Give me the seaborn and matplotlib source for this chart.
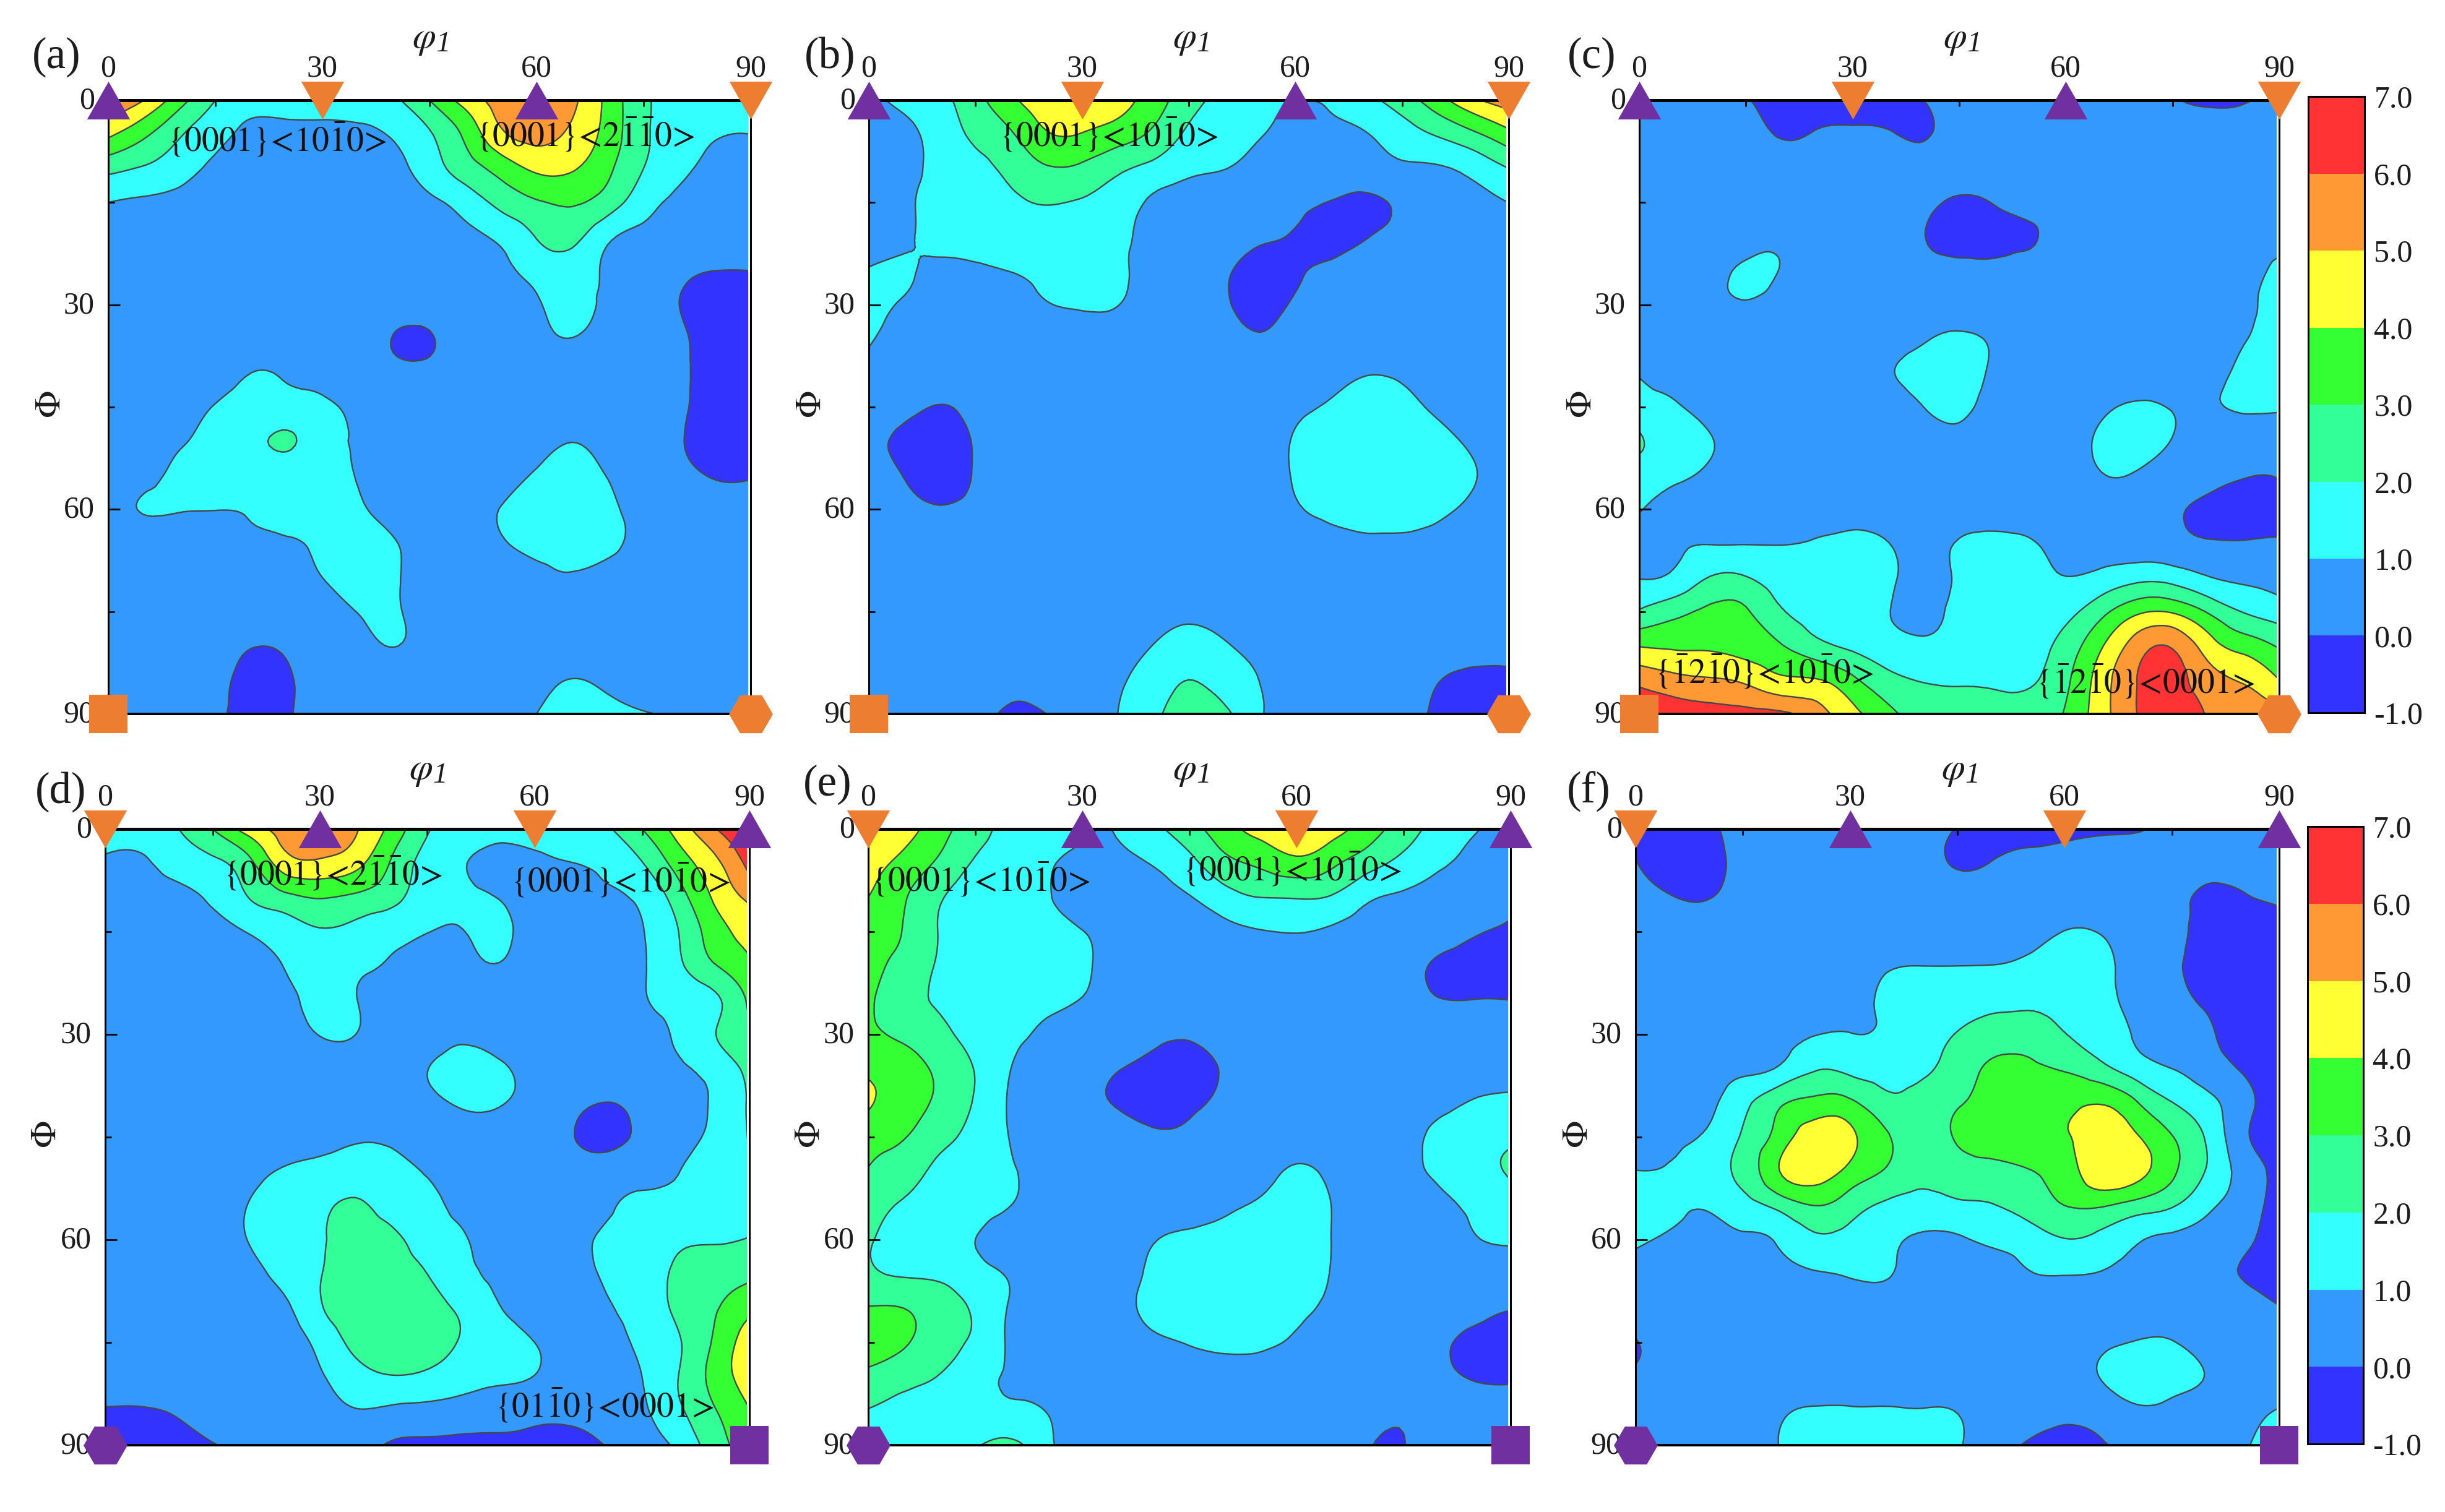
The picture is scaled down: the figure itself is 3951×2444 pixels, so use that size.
import numpy as np
import matplotlib
matplotlib.use("Agg")
import matplotlib.pyplot as plt
import matplotlib.tri as mtri
import matplotlib.transforms as mtransforms
import seaborn as sns

phi1_values = [0,5,10,15,20,25,30,35,40,45,50,55,60,65,70,75,80,85,90]
Phi_values = [0,5,10,15,20,25,30,35,40,45,50,55,60,65,70,75,80,85,90]
levels = [-1,0,1,2,3,4,5,6,7]
level_labels = ['-1.0','0.0','1.0','2.0','3.0','4.0','5.0','6.0','7.0']
angle_ticks = [0,30,60,90]
minor_ticks = [15,45,75]

panel_a = [
[6.0,5.0,3.4,2.0,1.3,1.4,1.3,1.3,1.8,3.0,4.4,5.4,5.8,5.2,3.7,2.2,1.6,1.4,1.3],
[4.2,3.2,2.1,1.3,.8,.75,.8,.85,1.1,1.9,3.2,4.8,5.3,4.8,3.6,2.2,1.4,1.05,1.0],
[2.3,1.9,1.4,.8,.6,.5,.5,.5,.7,1.5,2.5,3.4,4.2,4.1,3.2,2.0,1.2,.8,.7],
[1.0,.85,.7,.5,.5,.5,.5,.5,.5,.8,1.4,2.3,2.9,3.1,2.5,1.4,.8,.6,.5],
[.5,.5,.5,.5,.5,.5,.5,.5,.5,.5,.8,1.2,2.05,2.3,1.2,.8,.6,.5,.5],
[.5,.5,.5,.5,.5,.5,.5,.5,.5,.5,.5,.8,1.3,1.5,.85,.6,.25,0,0],
[.5,.5,.5,.5,.5,.5,.5,.5,.5,.5,.5,.6,.9,1.3,.8,.5,0,-.5,-.5],
[.5,.5,.5,.5,.5,.5,.5,.5,-.05,-.1,.5,.5,.7,.98,.6,.5,.2,-.5,-.5],
[.5,.5,.5,.6,1.0,.9,.7,.5,.3,.3,.5,.5,.5,.5,.5,.5,.25,-.5,-.5],
[.5,.5,.6,1.05,1.4,1.4,1.15,.8,.5,.5,.5,.5,.5,.5,.5,.5,.2,-.5,-.5],
[.5,.6,.9,1.3,1.7,2.1,1.4,.9,.5,.5,.5,.5,.6,.98,.6,.5,.1,-.5,-.5],
[.5,.75,1.2,1.4,1.5,1.5,1.3,.95,.5,.5,.5,.7,1.1,1.4,.95,.5,.3,-.1,-.1],
[.6,1.05,1.05,1.02,1.1,1.3,1.3,1.1,.7,.5,.6,1.02,1.3,1.5,1.25,.6,.5,.5,.5],
[.5,.5,.5,.5,.8,.9,1.15,1.25,1.05,.6,.5,.9,1.25,1.4,1.3,.6,.5,.5,.5],
[.5,.5,.5,.5,.5,.7,1.0,1.25,1.1,.6,.5,.5,.7,.9,.6,.5,.5,.5,.5],
[.5,.5,.5,.5,.5,.5,.7,1.02,1.1,.6,.5,.5,.5,.5,.5,.5,.5,.5,.5],
[.5,.5,.5,.4,.05,.15,.5,.7,1.02,.6,.5,.5,.5,.5,.5,.5,.5,.5,.5],
[.5,.5,.5,.35,-.4,-.15,.45,.5,.5,.5,.5,.5,.7,1.02,.8,.6,.5,.5,.5],
[.5,.5,.5,.3,-.6,-.15,.45,.5,.5,.5,.5,.6,1.0,1.4,1.3,1.05,.9,.7,.5],
]

panel_b = [
[.8,1.2,1.7,2.65,3.8,4.6,4.8,4.4,3.5,2.4,1.7,1.3,1.05,1.1,1.7,2.5,3.6,4.8,5.5],
[.6,.8,1.4,2.2,2.9,3.9,3.95,3.5,2.8,1.8,1.3,1.05,.7,.8,.97,1.5,2.1,2.8,3.7],
[.6,.7,1.3,1.7,2.3,2.9,2.8,2.2,1.7,1.2,1.02,.7,.5,.5,.6,.85,.9,1.3,2.0],
[.6,.8,1.4,1.5,1.8,2.05,1.9,1.5,.85,.6,.5,.5,.3,-.05,-.2,.2,.5,.7,1.0],
[.6,.85,1.3,1.4,1.5,1.5,1.4,1.2,.7,.5,.5,.15,-.1,-.5,-.05,.2,.5,.5,.5],
[1.05,1.1,.8,.85,1.02,1.2,1.35,1.2,.6,.5,.2,-.5,-.2,.3,.5,.5,.5,.5,.5],
[1.3,.9,.6,.5,.6,.95,1.1,1.02,.5,.5,.2,-.5,.2,.5,.5,.5,.5,.5,.5],
[1.1,.6,.5,.5,.5,.5,.6,.6,.5,.5,.5,.15,.5,.5,.5,.5,.5,.5,.5],
[.7,.5,.5,.5,.5,.5,.5,.5,.5,.5,.5,.5,.5,.7,.95,.85,.6,.5,.5],
[.5,.3,-.05,.3,.5,.5,.5,.5,.5,.5,.5,.5,.75,1.15,1.5,1.3,.85,.6,.5],
[.4,-.3,-.6,.1,.5,.5,.5,.5,.5,.5,.5,.6,1.1,1.7,1.8,1.7,1.3,.85,.5],
[.4,-.05,-.6,.1,.5,.5,.5,.5,.5,.5,.5,.6,1.1,1.7,1.9,1.9,1.5,1.05,.6],
[.5,.3,.1,.3,.5,.5,.5,.5,.5,.5,.5,.5,.9,1.2,1.4,1.4,1.2,.8,.5],
[.5,.5,.5,.5,.5,.5,.5,.5,.5,.5,.5,.5,.6,.8,.85,.85,.7,.5,.5],
[.5,.5,.5,.5,.5,.5,.5,.5,.5,.5,.5,.5,.5,.5,.5,.5,.5,.5,.5],
[.5,.5,.5,.5,.5,.5,.5,.5,.6,.8,.6,.5,.5,.5,.5,.5,.5,.5,.5],
[.5,.5,.5,.5,.5,.5,.5,.6,1.02,1.4,1.1,.7,.5,.5,.5,.5,.45,.3,.3],
[.5,.5,.5,.5,.3,.4,.5,.85,1.5,2.0,1.6,.98,.5,.5,.5,.5,.05,-.2,-.2],
[.5,.5,.5,.4,-.2,0,.4,1.0,1.8,2.4,2.2,1.1,.6,.5,.5,.4,-.2,-.6,-.6],
]

panel_c = [
[.5,.5,.5,.1,-.6,-.7,-.7,-.6,0,.5,.5,.5,.5,.5,.5,.1,-.2,-.1,.5],
[.5,.5,.5,.5,-.1,.1,.2,.1,-.1,.5,.5,.5,.5,.5,.5,.5,.5,.5,.5],
[.5,.5,.5,.5,.5,.5,.5,.5,.5,.5,.5,.5,.5,.5,.5,.5,.5,.5,.5],
[.5,.5,.5,.5,.5,.5,.5,.5,.4,-.25,.1,.45,.5,.5,.5,.5,.5,.5,.5],
[.5,.5,.5,.5,.8,.5,.5,.5,.05,-.7,-.6,-.15,.5,.5,.5,.5,.5,.5,.5],
[.5,.5,.6,1.2,.95,.6,.5,.5,.4,.4,.4,.5,.5,.5,.5,.5,.5,.6,1.3],
[.5,.5,.7,.9,.6,.5,.5,.5,.5,.5,.5,.5,.5,.5,.5,.5,.5,.8,1.3],
[.5,.5,.5,.5,.5,.5,.5,.6,.9,1.2,.8,.5,.5,.5,.5,.5,.6,.95,1.4],
[.95,.7,.5,.5,.5,.5,.5,.9,1.4,1.5,.8,.5,.5,.5,.5,.5,.7,1.2,1.5],
[1.4,1.1,.7,.5,.5,.5,.5,.5,1.0,1.25,.6,.5,.5,.8,1.15,.95,.9,1.1,1.1],
[2.1,1.5,1.05,.6,.5,.5,.5,.5,.6,.7,.5,.5,.6,1.2,1.5,.95,.5,.6,.6],
[1.5,1.2,.8,.5,.5,.5,.5,.5,.5,.5,.5,.5,.5,.95,.9,.5,.4,.1,.1],
[1.05,.7,.5,.5,.5,.5,.5,.5,.5,.5,.5,.5,.5,.5,.5,.2,-.3,-.6,-.6],
[.6,.9,.97,.97,.97,1.1,1.3,1.03,.6,1.1,1.3,1.1,.6,.5,.5,.3,.1,.1,.2],
[.97,1.2,2.05,2.05,1.5,1.3,1.3,1.2,.5,1.2,1.4,1.3,1.02,1.3,1.7,1.6,1.05,.85,.7],
[2.1,2.7,3.2,3.1,2.1,1.5,1.2,1.03,.7,1.3,1.4,1.4,1.7,2.7,3.8,3.9,2.9,1.95,1.5],
[3.95,3.85,3.85,3.6,3.05,2.3,1.8,1.4,1.2,1.3,1.3,1.6,2.4,3.9,5.5,5.9,4.5,3.6,2.9],
[5.7,5.3,5.1,4.8,4.2,4.05,3.2,2.3,1.95,1.9,1.85,1.9,2.8,4.5,6.0,6.4,5.4,4.9,4.0],
[6.9,6.6,6.4,6.3,6.2,5.4,4.3,3.3,2.4,2.2,2.2,2.4,3.1,4.6,6.0,6.8,5.9,5.6,5.4],
]

panel_d = [
[1.5,1.5,1.95,3.0,4.45,5.4,5.9,5.1,3.7,2.1,1.5,1.4,1.3,1.4,1.85,3.0,4.4,5.9,7.0],
[.85,.85,1.4,1.8,2.7,4.5,4.8,4.3,2.9,1.6,1.05,.7,.8,.98,1.2,1.95,3.4,4.7,6.3],
[.5,.6,.7,1.2,2.0,2.7,3.05,2.8,2.3,1.4,1.1,.97,.5,.5,.85,1.2,2.5,4.1,5.2],
[.5,.5,.5,.6,1.05,1.5,1.9,1.7,1.3,1.02,.98,1.2,.6,.5,.5,.95,1.97,3.5,4.4],
[.5,.5,.5,.5,.5,1.02,1.25,1.15,.9,.6,.7,.95,.5,.5,.5,.9,1.8,2.9,3.8],
[.5,.5,.5,.5,.5,.8,1.2,1.03,.5,.5,.5,.5,.5,.5,.5,.9,1.3,1.8,3.2],
[.5,.5,.5,.5,.5,.6,1.03,1.0,.5,.5,.8,.5,.5,.5,.5,.6,1.15,1.95,2.8],
[.5,.5,.5,.5,.5,.5,.5,.5,.5,.98,1.4,1.2,.6,.5,.5,.5,.85,1.35,2.3],
[.5,.5,.5,.5,.5,.5,.5,.5,.5,.7,1.15,1.1,.6,.3,-.02,.4,.7,1.1,2.1],
[.5,.5,.5,.5,.5,.5,.7,.9,.8,.5,.5,.5,.5,.1,-.4,.3,.75,1.2,2.05],
[.5,.5,.5,.5,.7,1.1,1.3,1.5,1.4,.9,.5,.5,.5,.5,.6,.7,.97,1.5,1.9],
[.5,.5,.5,.5,1.02,1.4,1.8,2.1,1.7,1.3,.7,.5,.5,.5,.85,1.2,1.3,1.5,1.6],
[.5,.5,.5,.5,1.02,1.4,1.9,2.3,2.2,1.6,1.1,.5,.5,.6,1.2,1.4,1.8,1.9,2.05],
[.5,.5,.5,.5,.75,1.25,1.95,2.5,2.4,2.0,1.3,.8,.5,.5,1.15,1.5,2.2,2.6,2.8],
[.5,.5,.5,.5,.5,.8,1.9,2.5,2.6,2.3,1.8,1.05,.6,.5,.9,1.4,2.2,2.9,3.7],
[.5,.5,.5,.5,.5,.5,1.3,2.25,2.6,2.4,1.9,1.4,1.0,.5,.6,1.2,1.9,3.1,4.6],
[.5,.5,.5,.5,.5,.5,.9,1.6,1.95,1.8,1.4,1.15,.98,.5,.5,1.0,1.98,3.3,4.5],
[-.1,-.1,.1,.4,.5,.5,.6,.95,.8,.7,.6,.5,.3,.2,.4,.85,1.8,2.9,3.95],
[-.9,-.8,-.4,-.05,.3,.4,.4,.3,-.1,-.2,-.3,-.3,-.3,-.3,.03,.5,1.2,2.5,3.5],
]

panel_e = [
[4.9,4.4,3.4,2.4,1.7,1.4,1.1,1.05,1.75,2.6,3.6,4.4,4.8,4.4,3.5,2.5,1.6,1.05,.8],
[4.4,3.7,2.8,1.9,1.5,1.1,.8,.8,1.05,1.7,2.7,3.2,3.7,3.2,2.4,1.7,1.15,.75,.6],
[4.0,3.1,2.1,1.5,1.2,1.05,.6,.5,.7,.95,1.6,2.0,2.05,1.9,1.15,.85,.65,.5,.3],
[3.5,2.95,1.95,1.4,1.3,1.2,1.03,.5,.5,.5,.75,.95,1.03,.85,.6,.5,.5,.1,-.2],
[3.4,2.6,1.9,1.5,1.4,1.35,1.2,.5,.5,.5,.5,.5,.5,.5,.5,.45,-.2,-.4,-.5],
[3.2,2.3,1.9,1.5,1.3,1.2,.95,.5,.5,.5,.5,.5,.5,.5,.5,.4,.05,.02,0],
[3.2,2.8,2.3,1.6,1.2,.8,.5,.5,.3,.2,.5,.5,.5,.5,.5,.5,.5,.5,.5],
[3.8,3.4,2.8,1.95,1.0,.5,.4,.05,-.4,-.7,.2,.5,.5,.5,.5,.5,.5,.5,.5],
[4.1,3.5,2.8,1.9,.9,.5,.3,-.1,-.5,-.3,.3,.5,.5,.5,.5,.5,.7,1.1,1.3],
[3.4,3.05,2.3,1.7,.95,.5,.5,.5,.2,.2,.5,.5,.5,.5,.5,.6,1.3,1.6,1.85],
[2.95,2.4,1.8,1.5,1.1,.6,.5,.5,.5,.5,.5,.6,1.15,.75,.5,.7,1.2,1.6,2.1],
[2.4,1.9,1.6,1.3,1.0,.5,.5,.5,.5,.6,.85,1.15,1.5,.98,.5,.5,.8,1.15,1.5],
[2.1,1.6,1.3,1.0,.6,.5,.5,.5,.95,1.2,1.3,1.45,1.5,.98,.5,.5,.6,.95,1.1],
[2.2,1.9,1.8,1.35,.9,.5,.5,.6,1.2,1.5,1.6,1.6,1.45,.95,.5,.5,.5,.5,.5],
[3.05,3.0,2.45,1.85,.9,.5,.5,.7,1.3,1.6,1.7,1.5,1.2,.8,.5,.5,.5,.3,.05],
[3.3,3.1,2.4,1.8,.85,.5,.5,.5,.8,1.07,1.3,1.2,.85,.5,.5,.5,.2,-.3,-.6],
[2.8,2.4,1.95,1.3,.9,.6,.5,.5,.5,.5,.5,.5,.5,.5,.5,.5,.3,-.1,-.2],
[1.95,1.6,1.3,1.2,1.2,.98,.5,.5,.5,.5,.5,.5,.5,.5,.3,.15,.5,.5,.5],
[1.6,1.4,1.5,1.9,2.3,1.2,.7,.5,.5,.5,.5,.5,.5,.4,.05,-.02,.5,.5,.5],
]

panel_f = [
[-.3,-.8,-.3,.4,.5,.5,.5,.5,.4,-.05,-.4,-.5,-.4,-.2,-.1,.4,.5,.5,.5],
[.05,-.6,-.4,.3,.5,.5,.5,.5,.4,-.1,.05,.3,.4,.5,.5,.4,.4,.4,.4],
[.4,.05,-.05,.4,.5,.5,.5,.5,.5,.5,.5,.5,.5,.5,.5,.3,-.2,-.1,.2],
[.5,.5,.5,.5,.5,.5,.5,.6,.6,.6,.6,.7,1.02,.95,.5,.2,-.3,-.6,-.6],
[.5,.5,.5,.5,.5,.5,.5,.9,1.0,1.0,1.02,1.2,1.5,1.3,.6,.2,-.5,-.7,-.7],
[.5,.5,.5,.5,.5,.5,.6,1.2,1.4,1.5,1.7,1.8,1.9,1.4,.7,.3,-.2,-.6,-.7],
[.5,.5,.5,.5,.7,.97,1.02,1.1,1.5,2.05,2.5,2.5,2.02,1.6,.9,.5,.15,-.5,-.7],
[.5,.5,.6,.8,1.1,1.9,1.75,1.6,1.8,2.5,3.15,3.2,2.9,2.3,1.5,1.0,.5,-.1,-.6],
[.5,.5,.8,1.7,2.8,3.3,3.2,2.3,2.4,2.9,3.4,3.6,3.7,3.95,3.1,2.03,1.3,.3,-.5],
[.5,.75,1.15,2.1,3.4,4.6,4.2,3.15,2.5,3.1,3.5,3.7,3.9,4.5,4.1,3.05,1.85,.2,-.5],
[1.02,1.1,1.6,2.3,3.95,4.6,3.7,2.9,2.2,2.5,2.65,2.95,3.5,4.7,4.4,3.2,1.9,.6,-.3],
[1.4,1.2,1.1,1.6,2.3,3.0,2.45,1.85,1.7,1.85,1.97,2.4,3.0,3.1,2.6,2.1,1.2,.5,-.5],
[1.2,.85,.75,.85,1.1,1.8,1.7,1.3,.8,.85,1.2,1.5,1.95,1.7,1.1,.8,.6,.2,-.5],
[.5,.5,.5,.5,.7,.9,1.1,1.1,.5,.5,.6,.95,1.03,.95,.7,.5,.3,-.05,-.4],
[.5,.5,.5,.5,.5,.5,.5,.5,.5,.5,.5,.5,.5,.5,.5,.5,.5,.4,.05],
[-.05,.4,.5,.5,.5,.5,.5,.5,.5,.5,.5,.5,.5,.8,1.05,1.05,.6,.5,.5],
[.15,.4,.5,.5,.5,.5,.5,.5,.5,.5,.5,.5,.6,1.02,1.4,1.3,.95,.5,.5],
[.4,.5,.5,.5,.85,1.1,1.1,1.1,1.05,.97,.5,.4,.25,.45,.85,.75,.5,.7,1.05],
[.5,.5,.5,.6,1.0,1.5,1.5,1.5,1.5,1.1,.4,-.1,-.4,-.1,.2,.4,.5,.9,1.5],
]

marker_top_x = [0,30,60,90]
marker_bot_x = [0,90]

sns.set_theme(style="ticks", rc={"axes.facecolor": "white"})
plt.rcParams['font.family'] = ['Liberation Serif', 'DejaVu Serif']
plt.rcParams['mathtext.fontset'] = 'stix'

band_colors = sns.color_palette(['#3333FF','#3399FF','#33FFFF','#33FF99',
                                 '#33FF33','#FFFF33','#FF9933','#FF3333'])
ORANGE = '#ED7D31'
PURPLE = '#7030A0'
TXT = '#1c1c1c'
W, H = 3951, 2444
UP = [(-.5,-.44),(.5,-.44),(0,.44)]
DOWN = [(-.5,.44),(.5,.44),(0,-.44)]

fig = plt.figure(figsize=(W/100, H/100), dpi=100, facecolor='white')

def place(l, r, t, b):
    return fig.add_axes([l/W, 1-b/H, (r-l)/W, (b-t)/H])

def ftext(x, y, s, **kw):
    fig.text(x/W, 1-y/H, s, ha='center', va='center', color=TXT, **kw)

OVER = r'\bar{1}'
LT = r'\!<\!'
GT = r'\!>'
t_1010 = r'\{0001\}' + LT + '10' + OVER + '0' + GT
t_2110 = r'\{0001\}' + LT + '2' + OVER + OVER + '0' + GT
t_c1 = r'\{' + OVER + '2' + OVER + r'0\}' + LT + '10' + OVER + '0' + GT
t_c2 = r'\{' + OVER + '2' + OVER + r'0\}' + LT + '0001' + GT
t_d = r'\{01' + OVER + r'0\}' + LT + '0001' + GT

panels = [
 dict(z=panel_a, box=(175,1213,162,1154), tag='(a)', tagxy=(91,92), phi=(697,64), big=(83,654),
      set1=True, notes=[(23.7,5.8,t_1010),(66.8,5.0,t_2110)]),
 dict(z=panel_b, box=(1404,2438,162,1154), tag='(b)', tagxy=(1341,92), phi=(1926,64), big=(1312,654),
      set1=True, notes=[(33.8,5.0,t_1010)]),
 dict(z=panel_c, box=(2649,3683,162,1154), tag='(c)', tagxy=(2572,92), phi=(3171,64), big=(2557,654),
      set1=True, notes=[(17.6,83.8,t_c1),(71.2,85.2,t_c2)], cbar=(3730,3821,156,1152)),
 dict(z=panel_d, box=(170,1211,1340,2336), tag='(d)', tagxy=(98,1280), phi=(692,1246), big=(76,1834),
      set1=False, notes=[(31.8,6.5,t_2110),(72.0,7.5,t_1010),(69.8,84.2,t_d)]),
 dict(z=panel_e, box=(1403,2441,1340,2336), tag='(e)', tagxy=(1337,1268), phi=(1926,1246), big=(1310,1834),
      set1=False, notes=[(15.8,7.4,t_1010),(59.4,5.8,t_1010)]),
 dict(z=panel_f, box=(2643,3683,1340,2336), tag='(f)', tagxy=(2567,1280), phi=(3168,1246), big=(2551,1834),
      set1=False, notes=[], cbar=(3729,3819,1336,2334)),
]

gx, gy = np.meshgrid(phi1_values, Phi_values)
tri = mtri.Triangulation(gx.ravel().astype(float), gy.ravel().astype(float))
refiner = mtri.UniformTriRefiner(tri)
label_shift = mtransforms.ScaledTranslation(0, 3/72, fig.dpi_scale_trans)

for p in panels:
    ax = place(*p['box'])
    z = np.array(p['z'], dtype=float)
    interp = mtri.CubicTriInterpolator(tri, z.ravel())
    rtri, rz = refiner.refine_field(z.ravel(), triinterpolator=interp, subdiv=3)
    rz = np.clip(rz, -0.99, 6.99)
    cf = ax.tricontourf(rtri, rz, levels=levels, colors=band_colors, zorder=1)
    ax.tricontour(rtri, rz, levels=levels[1:-1], colors='#474747', linewidths=1.7, zorder=2)
    ax.axvspan(89.65, 90, color='white', lw=0, zorder=2.2)

    bot_c = ORANGE if p['set1'] else PURPLE
    up_x = marker_top_x[0::2] if p['set1'] else marker_top_x[1::2]
    dn_x = marker_top_x[1::2] if p['set1'] else marker_top_x[0::2]
    sns.scatterplot(x=up_x, y=[0,0], marker=UP, s=50**2, color=PURPLE, linewidth=0,
                    ax=ax, clip_on=False, zorder=5, legend=False)
    sns.scatterplot(x=dn_x, y=[0,0], marker=DOWN, s=50**2, color=ORANGE, linewidth=0,
                    ax=ax, clip_on=False, zorder=5, legend=False)
    sq_x, hx_x = (marker_bot_x[0], marker_bot_x[1]) if p['set1'] else (marker_bot_x[1], marker_bot_x[0])
    sns.scatterplot(x=[sq_x], y=[90], marker='s', s=45**2, color=bot_c, linewidth=0,
                    ax=ax, clip_on=False, zorder=5, legend=False)
    sns.scatterplot(x=[hx_x], y=[90], marker='H', s=51**2, color=bot_c, linewidth=0,
                    ax=ax, clip_on=False, zorder=5, legend=False)

    ax.set_xlim(0, 90)
    ax.set_ylim(90, 0)
    ax.set_xlabel('')
    ax.set_ylabel('')
    ax.set_xticks(angle_ticks)
    ax.set_xticklabels([str(v) for v in angle_ticks])
    ax.set_yticks(angle_ticks)
    ax.set_yticklabels([str(v) for v in angle_ticks])
    ax.set_xticks(minor_ticks, minor=True)
    ax.set_yticks(minor_ticks, minor=True)
    ax.tick_params(axis='x', which='both', direction='in', top=True, bottom=False,
                   labeltop=True, labelbottom=False, color='black')
    ax.tick_params(axis='y', which='both', direction='in', left=True, right=False, color='black')
    ax.tick_params(axis='x', which='major', length=14, width=2, pad=20, labelsize=36, labelcolor=TXT)
    ax.tick_params(axis='y', which='major', length=14, width=2, pad=16, labelsize=36, labelcolor=TXT)
    ax.tick_params(axis='both', which='minor', length=7, width=2)
    ax.set_axisbelow(False)
    for lbl in ax.get_yticklabels():
        lbl.set_transform(lbl.get_transform() + label_shift)
    for name, lw in dict(top=3.6, bottom=2.8, left=2.2, right=2.2).items():
        ax.spines[name].set_visible(True)
        ax.spines[name].set_linewidth(lw)
        ax.spines[name].set_color('black')
        ax.spines[name].set_zorder(3)

    for nx, ny, s in p['notes']:
        ax.text(nx, ny, '$' + s + '$', ha='center', va='center', fontsize=40, color='#111111', zorder=6)

    ftext(*p['tagxy'], p['tag'], fontsize=51)
    px, py = p['phi']
    ftext(px - 12, py, r'$\varphi$', fontsize=44)
    ftext(px + 19, py + 8, '1', fontsize=34, style='italic')
    ftext(*p['big'], r'$\mathit{\Phi}$', fontsize=42, rotation=90)

    if 'cbar' in p:
        cax = place(*p['cbar'])
        cb = fig.colorbar(cf, cax=cax, ticks=levels, drawedges=False)
        cb.set_ticklabels(level_labels)
        cax.minorticks_off()
        cax.tick_params(axis='y', direction='in', length=13, width=2, pad=11,
                        labelsize=36, labelcolor=TXT, color='black', right=True, left=False)
        cb.outline.set_linewidth(2.2)
        cb.outline.set_edgecolor('black')

fig.savefig('out.png', dpi=100, facecolor='white')
